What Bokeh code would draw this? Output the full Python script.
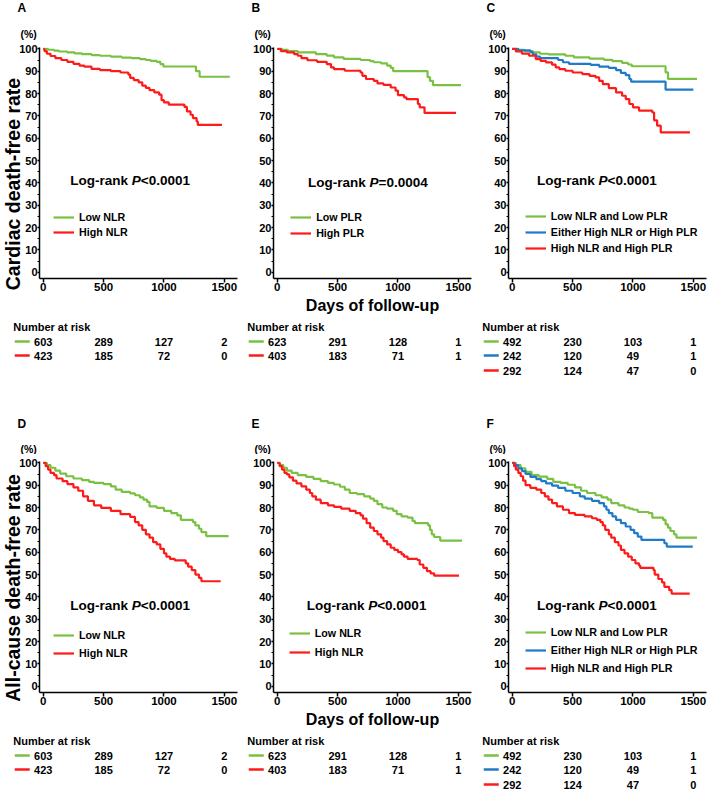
import math
from bokeh.plotting import figure
from bokeh.models import Range1d, FixedTicker, Legend, LegendItem, ColumnDataSource, Label
from bokeh.layouts import column, row
from bokeh.embed import file_html
from bokeh.resources import INLINE
from bokeh.core.properties import value

# ---------------- data ----------------
X_TICKS = [0, 500, 1000, 1500]
Y_TICKS = [0, 10, 20, 30, 40, 50, 60, 70, 80, 90, 100]
Y_MINOR = [5, 15, 25, 35, 45, 55, 65, 75, 85, 95]
RISK_TIMES = [0, 500, 1000, 1500]

LABELS_NLR = ["Low NLR", "High NLR"]
LABELS_PLR = ["Low PLR", "High PLR"]
LABELS_COMB = ["Low NLR and Low PLR", "Either High NLR or High PLR", "High NLR and High PLR"]

# Panel A (cardiac death, NLR)
A_LOW_T = [0, 40, 90, 130, 200, 260, 320, 400, 470, 560, 650, 730, 800, 850, 890, 940, 970, 995, 1265, 1295]
A_LOW_S = [100, 99.6, 99.2, 98.8, 98.4, 98, 97.6, 97.2, 96.9, 96.5, 96.1, 95.8, 95.4, 95, 94.6, 94.2, 93.2, 92.1, 90, 87.5]
A_LOW_END = 1545
A_HIGH_T = [0, 10, 30, 60, 100, 150, 200, 250, 300, 340, 400, 470, 560, 640, 705, 720, 750, 790, 820, 850, 880, 920, 960, 980, 1000, 1040, 1170, 1190, 1220, 1240, 1270, 1280]
A_HIGH_S = [100, 99, 97.8, 96.8, 95.8, 95, 94.2, 93.3, 92.5, 92, 91, 90.5, 90, 89.4, 88.5, 87, 86, 85, 83.5, 82.5, 81.5, 80.5, 79.5, 77, 76, 75, 74, 72, 70.5, 69, 67.5, 66]
A_HIGH_END = 1480
A_RISK_LOW = [603, 289, 127, 2]
A_RISK_HIGH = [423, 185, 72, 0]

# Panel B (cardiac death, PLR)
B_LOW_T = [0, 40, 90, 170, 320, 410, 470, 550, 690, 770, 800, 860, 910, 940, 960, 1245, 1265, 1290]
B_LOW_S = [100, 99.5, 99, 98.4, 97.6, 97, 96.2, 95.5, 95, 94.5, 94, 93.5, 92.5, 91.5, 90, 87.3, 85.7, 83.8]
B_LOW_END = 1522
B_HIGH_T = [0, 30, 80, 140, 170, 200, 250, 330, 410, 445, 470, 560, 690, 705, 735, 800, 830, 880, 940, 980, 1000, 1050, 1070, 1165, 1180, 1220]
B_HIGH_S = [100, 99, 98.4, 97.6, 96.9, 95.8, 94.9, 94.2, 93.2, 91.7, 90.9, 90.2, 89.4, 87.9, 86.5, 85.7, 84.5, 83.9, 82.7, 81.3, 79.3, 78.3, 77.5, 75.3, 73.8, 71.3]
B_HIGH_END = 1481
B_RISK_LOW = [623, 291, 128, 1]
B_RISK_HIGH = [403, 183, 71, 1]

# Panel C (cardiac death, combined)
C_LOW_T = [0, 40, 100, 170, 230, 300, 440, 510, 640, 760, 830, 910, 960, 990, 1270, 1290]
C_LOW_S = [100, 99.5, 99, 98.4, 97.8, 97.5, 96.9, 96.2, 95.6, 95.1, 94.5, 93.7, 93, 92.2, 89.5, 86.6]
C_LOW_END = 1530
C_MID_T = [0, 50, 150, 170, 200, 230, 380, 420, 470, 650, 720, 800, 860, 900, 940, 970, 985, 1270]
C_MID_S = [100, 99.3, 98.5, 97.5, 96.5, 95.8, 95, 94, 93.3, 92.8, 92, 91.5, 90.5, 89.2, 88.2, 86.5, 85.3, 81.7]
C_MID_END = 1500
C_HIGH_T = [0, 30, 80, 140, 195, 235, 280, 330, 360, 390, 440, 500, 580, 640, 690, 720, 750, 800, 860, 910, 940, 970, 1000, 1050, 1160, 1175, 1200, 1230]
C_HIGH_S = [100, 98.8, 97.9, 96.9, 95.4, 94.6, 93.9, 92.9, 91.7, 90.9, 90.2, 89.4, 88.7, 87.9, 87.2, 85.7, 84.2, 82.4, 80.5, 79, 77.5, 75.3, 73.8, 72.3, 71.5, 68, 65.6, 62.6]
C_HIGH_END = 1472
C_RISK_LOW = [492, 230, 103, 1]
C_RISK_MID = [242, 120, 49, 1]
C_RISK_HIGH = [292, 124, 47, 0]

# Panel D (all-cause death, NLR)
D_LOW_T = [0, 30, 60, 100, 140, 190, 250, 320, 380, 420, 500, 560, 600, 650, 720, 760, 800, 830, 860, 880, 940, 1000, 1060, 1110, 1140, 1240, 1260, 1290, 1310, 1350]
D_LOW_S = [100, 99, 97.8, 96.5, 95.2, 94, 93, 92.3, 91.5, 91, 90.5, 89.5, 88, 87, 86.3, 85.5, 84.5, 83.5, 82.5, 80.5, 79.8, 78.5, 77.5, 76.5, 74.5, 73.5, 72, 70.5, 69, 67.2]
D_LOW_END = 1535
D_HIGH_T = [0, 20, 40, 60, 90, 110, 160, 200, 250, 290, 330, 370, 420, 480, 560, 640, 720, 760, 790, 820, 850, 880, 910, 940, 970, 1000, 1020, 1050, 1090, 1180, 1200, 1230, 1260, 1290, 1310]
D_HIGH_S = [100, 98.5, 97, 95.5, 94.5, 93, 91.8, 90.5, 89, 87.5, 85, 83, 81, 79.8, 78.5, 77, 75.8, 73.5, 72, 70, 68, 66.5, 64.5, 63.5, 61.5, 59.5, 58, 57, 56.3, 55, 53.5, 52, 50, 48.5, 47]
D_HIGH_END = 1470
D_RISK_LOW = [603, 289, 127, 2]
D_RISK_HIGH = [423, 185, 72, 0]

# Panel E (all-cause death)
E_LOW_T = [0, 20, 50, 80, 120, 170, 240, 300, 360, 420, 470, 520, 560, 600, 660, 720, 770, 800, 830, 870, 910, 960, 990, 1030, 1080, 1120, 1140, 1250, 1265, 1280, 1300, 1350]
E_LOW_S = [100, 99, 97.8, 96.5, 95.5, 94.5, 93.7, 92.8, 91.8, 91, 90.3, 89.3, 88, 86.5, 86, 85, 84, 83, 81.5, 80, 79.5, 78.5, 77, 76, 75.5, 74, 73, 72, 70, 68, 66.8, 65.2]
E_LOW_END = 1530
E_HIGH_T = [0, 20, 40, 60, 80, 100, 130, 160, 200, 240, 270, 290, 320, 360, 420, 470, 530, 600, 650, 690, 710, 740, 770, 800, 830, 860, 880, 910, 940, 970, 1000, 1030, 1050, 1080, 1160, 1180, 1210, 1240, 1270, 1300]
E_HIGH_S = [100, 98.5, 97, 95.5, 94.8, 93.5, 92, 90.8, 89.5, 88, 86.5, 85, 83.5, 82, 81, 80.3, 79.5, 78.5, 77.5, 76.5, 75, 73, 71, 69.5, 68, 66.5, 65, 63.5, 62, 61, 60, 59, 58, 57, 56.5, 54.5, 53, 51.5, 50.5, 49.5]
E_HIGH_END = 1505
E_RISK_LOW = [623, 291, 128, 1]
E_RISK_HIGH = [403, 183, 71, 1]

# Panel F (all-cause death, combined)
F_LOW_T = [0, 30, 70, 110, 160, 220, 290, 340, 400, 460, 520, 570, 620, 690, 740, 790, 820, 880, 930, 970, 1000, 1040, 1130, 1160, 1250, 1270, 1290, 1310, 1340, 1360]
F_LOW_S = [100, 99, 97.5, 96, 94.5, 93.8, 92.8, 91.5, 91, 90.2, 89, 87.5, 86.5, 85.5, 84.5, 83.5, 82, 81, 80, 79.5, 79, 78, 77.5, 75.5, 74.5, 72.5, 71, 69.5, 68, 66.5]
F_LOW_END = 1530
F_MID_T = [0, 20, 50, 80, 110, 150, 200, 240, 280, 330, 380, 440, 500, 560, 600, 660, 720, 760, 780, 800, 830, 860, 900, 940, 980, 1010, 1040, 1070, 1260, 1280]
F_MID_S = [100, 99, 97.5, 96.3, 95, 93.7, 92.7, 91.8, 90.8, 89.8, 88.8, 87.5, 86.5, 85, 84, 83, 82, 80.5, 79, 77.5, 76, 74.5, 73, 71.5, 70, 68.5, 67, 65.5, 64, 62.5]
F_MID_END = 1495
F_HIGH_T = [0, 15, 30, 50, 70, 90, 110, 150, 200, 240, 270, 300, 330, 370, 420, 470, 520, 600, 660, 700, 730, 750, 770, 800, 820, 850, 880, 900, 930, 960, 990, 1020, 1050, 1060, 1170, 1180, 1210, 1240, 1260, 1300, 1320]
F_HIGH_S = [100, 98.5, 97, 95.5, 94, 92, 90, 88.8, 88, 86.5, 85, 83.5, 82, 80.5, 79, 77.5, 76.7, 76, 75.2, 74.5, 73.5, 72, 70, 68, 66.5, 64.5, 63, 61, 59.5, 58, 56.5, 55, 54, 53, 52, 50, 48, 46.5, 44.5, 43, 41.5]
F_HIGH_END = 1470
F_RISK_LOW = [492, 230, 103, 1]
F_RISK_MID = [242, 120, 49, 1]
F_RISK_HIGH = [292, 124, 47, 0]

# ---------------- style / geometry ----------------
GREEN = "#7ac143"
RED = "#ff1a1a"
BLUE = "#1f7bc8"
FONT = "Liberation Sans"

X0, X1 = -31, 1609
Y0, Y1 = -2.8, 100.6
FRAME_W, FRAME_H = 198, 231
B_TOP, B_BOTTOM = 7, 38
PLOT_H = B_TOP + FRAME_H + B_BOTTOM
YLAB_W = 24        # width of the strip holding the rotated y-axis title
YLAB_OVERLAP = 10  # the plot canvas overlaps the strip by this much
# (column width, frame left inside column, right border)
COLS = [(240, 39, 3), (235, 33, 4), (234, 33, 3)]
HEADER_H = 40
TABLE_H = [98, 61]
LETTER_Y = [7, 9]
PCT_Y = [33, 34]
HEADER_Y = 10
ROW_Y = [25, 39, 54]
SX = FRAME_W / (X1 - X0)
SY = FRAME_H / (Y1 - Y0)


def sx(d):
    return (d - X0) * SX


def sy(v):
    return (v - Y0) * SY


PANELS = [
    dict(letter="A", ylabel="Cardiac death-free rate", ylabel_y=39.5, xlabel=False,
         curves=[(LABELS_NLR[0], GREEN, A_LOW_T, A_LOW_S, A_LOW_END),
                 (LABELS_NLR[1], RED, A_HIGH_T, A_HIGH_S, A_HIGH_END)],
         ptext="<0.0001", logrank=(224, 41.1), legend=(85, 17.8, 15),
         risk=[(GREEN, A_RISK_LOW), (RED, A_RISK_HIGH)]),
    dict(letter="B", ylabel=None, xlabel=True,
         curves=[(LABELS_PLR[0], GREEN, B_LOW_T, B_LOW_S, B_LOW_END),
                 (LABELS_PLR[1], RED, B_HIGH_T, B_HIGH_S, B_HIGH_END)],
         ptext="=0.0004", logrank=(255, 40.3), legend=(111, 17.4, 16),
         risk=[(GREEN, B_RISK_LOW), (RED, B_RISK_HIGH)]),
    dict(letter="C", ylabel=None, xlabel=False,
         curves=[(LABELS_COMB[0], GREEN, C_LOW_T, C_LOW_S, C_LOW_END),
                 (LABELS_COMB[1], BLUE, C_MID_T, C_MID_S, C_MID_END),
                 (LABELS_COMB[2], RED, C_HIGH_T, C_HIGH_S, C_HIGH_END)],
         ptext="<0.0001", logrank=(205, 41.1), legend=(108, 10.6, 16),
         risk=[(GREEN, C_RISK_LOW), (BLUE, C_RISK_MID), (RED, C_RISK_HIGH)]),
    dict(letter="D", ylabel="All-cause death-free rate", ylabel_y=44.0, xlabel=False,
         curves=[(LABELS_NLR[0], GREEN, D_LOW_T, D_LOW_S, D_LOW_END),
                 (LABELS_NLR[1], RED, D_HIGH_T, D_HIGH_S, D_HIGH_END)],
         ptext="<0.0001", logrank=(224, 36.0), legend=(85, 14.5, 18),
         risk=[(GREEN, D_RISK_LOW), (RED, D_RISK_HIGH)]),
    dict(letter="E", ylabel=None, xlabel=True,
         curves=[(LABELS_NLR[0], GREEN, E_LOW_T, E_LOW_S, E_LOW_END),
                 (LABELS_NLR[1], RED, E_HIGH_T, E_HIGH_S, E_HIGH_END)],
         ptext="<0.0001", logrank=(244, 36.0), legend=(100, 14.9, 19),
         risk=[(GREEN, E_RISK_LOW), (RED, E_RISK_HIGH)]),
    dict(letter="F", ylabel=None, xlabel=False,
         curves=[(LABELS_COMB[0], GREEN, F_LOW_T, F_LOW_S, F_LOW_END),
                 (LABELS_COMB[1], BLUE, F_MID_T, F_MID_S, F_MID_END),
                 (LABELS_COMB[2], RED, F_HIGH_T, F_HIGH_S, F_HIGH_END)],
         ptext="<0.0001", logrank=(205, 36.0), legend=(108, 7.8, 18),
         risk=[(GREEN, F_RISK_LOW), (BLUE, F_RISK_MID), (RED, F_RISK_HIGH)]),
]


def bare_fig(w, h, xr, yr):
    f = figure(width=w, height=h, x_range=xr, y_range=yr, toolbar_location=None,
               output_backend="svg", min_border=0,
               x_axis_location=None, y_axis_location=None)
    f.outline_line_color = None
    f.grid.visible = False
    f.background_fill_color = "white"
    f.border_fill_color = "white"
    return f


def txt(f, x, y, text, size, style="bold", align="left", baseline="middle", angle=0.0):
    f.text(x=[x], y=[y], text=[text], text_align=align, text_baseline=baseline,
           text_font=value(FONT), text_font_style=style, text_font_size=size,
           text_color="black", angle=angle)


def txt_label(**kw):
    base = dict(text_font=FONT, text_font_style="bold", text_color="black",
                text_baseline="middle", text_align="left")
    base.update(kw)
    return Label(**base)


def make_header(spec, colw, fl, r):
    f = bare_fig(colw, HEADER_H, Range1d(0, colw), Range1d(HEADER_H, 0))
    txt(f, fl - 22, LETTER_Y[r], spec["letter"], "12px")
    txt(f, fl - 19, PCT_Y[r], "(%)", "10.5px")
    return f


def make_ylabel(spec):
    f = bare_fig(YLAB_W, PLOT_H, Range1d(0, YLAB_W),
                 Range1d(Y0 - B_BOTTOM / SY, Y1 + B_TOP / SY))
    txt(f, 12, spec["ylabel_y"], spec["ylabel"], "19.5px",
        align="center", baseline="middle", angle=math.pi / 2)
    return f


def make_plot(spec, bl, br):
    p = figure(width=bl + FRAME_W + br, height=PLOT_H,
               x_range=Range1d(X0, X1), y_range=Range1d(Y0, Y1),
               toolbar_location=None, output_backend="svg",
               min_border_left=bl, min_border_right=br,
               min_border_top=B_TOP, min_border_bottom=B_BOTTOM)
    p.outline_line_color = None
    p.xgrid.visible = False
    p.ygrid.visible = False
    p.background_fill_color = "white"
    p.border_fill_color = "white"

    xa, ya = p.xaxis[0], p.yaxis[0]
    xa.ticker = FixedTicker(ticks=X_TICKS, minor_ticks=[])
    ya.ticker = FixedTicker(ticks=Y_TICKS, minor_ticks=Y_MINOR)
    for ax in (xa, ya):
        ax.axis_line_width = 1.5
        ax.axis_line_color = "black"
        ax.major_tick_line_width = 1.5
        ax.minor_tick_line_width = 1.2
        ax.major_tick_in = 0
        ax.minor_tick_in = 0
        ax.minor_tick_out = 2
        ax.major_label_text_font = FONT
        ax.major_label_text_font_style = "bold"
        ax.major_label_text_color = "black"
    xa.major_tick_out = 4
    xa.major_label_standoff = 0
    xa.major_label_text_font_size = "11.5px"
    ya.major_tick_out = 2
    ya.major_label_standoff = 0
    ya.major_label_text_font_size = "11px"
    if spec["xlabel"]:
        xa.axis_label = "Days of follow-up"
        xa.axis_label_text_font = FONT
        xa.axis_label_text_font_style = "bold"
        xa.axis_label_text_font_size = "16px"
        xa.axis_label_text_color = "black"
        xa.axis_label_standoff = 3

    items = []
    for name, color, t, s, end in spec["curves"]:
        r = p.step(t + [end], s + [s[-1]], mode="after", line_color=color, line_width=2.2)
        items.append(LegendItem(label=name, renderers=[r]))

    ld, lv, pitch = spec["legend"]
    legend = Legend(items=items, location=(sx(ld), sy(lv) - 7),
                    orientation="vertical", glyph_width=21, glyph_height=14,
                    label_height=14, label_standoff=5, spacing=pitch - 14,
                    padding=0, margin=0, border_line_color=None,
                    background_fill_alpha=0, label_text_font=FONT,
                    label_text_font_style="bold", label_text_font_size="10.7px",
                    label_text_color="black")
    p.add_layout(legend)

    lx, ly = spec["logrank"]
    fs = 13.5
    w1 = (4278 + 278) / 1000 * fs
    wp = 667 / 1000 * fs
    p.add_layout(txt_label(x=lx, y=ly, text="Log-rank", text_font_size="13.5px"))
    p.add_layout(txt_label(x=lx, y=ly, x_offset=w1, text="P",
                           text_font_style="bold italic", text_font_size="13.5px"))
    p.add_layout(txt_label(x=lx, y=ly, x_offset=w1 + wp, text=spec["ptext"],
                           text_font_size="13.5px"))
    return p


def make_table(spec, colw, fl, br, h):
    t = bare_fig(colw, h, Range1d(X0 - fl / SX, X1 + br / SX), Range1d(h, 0))
    txt(t, -30 / SX, HEADER_Y, "Number at risk", "11px")
    dash_x = -21 / SX
    for i, (color, counts) in enumerate(spec["risk"]):
        yy = ROW_Y[i]
        src = ColumnDataSource(dict(x=RISK_TIMES, y=[yy] * len(RISK_TIMES),
                                    text=[str(c) for c in counts]))
        t.text(x="x", y="y", text="text", source=src, text_align="center",
               text_baseline="middle", text_font=value(FONT), text_font_style="bold",
               text_font_size="11px", text_color="black")
        t.scatter(x=[dash_x], y=[yy], marker="dash", size=15, line_color=color,
                  line_width=2.5)
    return t


cols_per_row = []
for r in range(2):
    cols = []
    for c in range(3):
        spec = PANELS[r * 3 + c]
        colw, fl, br = COLS[c]
        header = make_header(spec, colw, fl, r)
        if spec["ylabel"]:
            ylab = make_ylabel(spec)
            plot = make_plot(spec, fl - (YLAB_W - YLAB_OVERLAP), br)
            plot.border_fill_alpha = 0
            mid = row(column(ylab, spacing=0, margin=(0, -YLAB_OVERLAP, 0, 0)),
                      plot, spacing=0)
        else:
            plot = make_plot(spec, fl, br)
            mid = row(plot, spacing=0)
        table = make_table(spec, colw, fl, br, TABLE_H[r])
        cols.append(column(header, mid, table, spacing=0))
    cols_per_row.append(row(*cols, spacing=0))

layout = column(*cols_per_row, spacing=0)

with open("out.html", "w") as f:
    f.write(file_html(layout, INLINE))
